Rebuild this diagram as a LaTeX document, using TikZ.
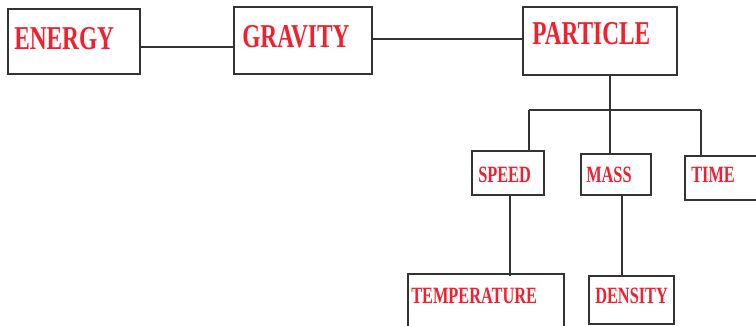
\documentclass[tikz,border=0pt]{standalone}
\usepackage{fontspec}
\newfontfamily\wordfont[FakeStretch=0.7]{Liberation Serif}
\definecolor{wordred}{RGB}{245,30,45}
\tikzset{
  topicbox/.style={draw=black!80,line width=0.8pt,inner sep=0pt},
  bigword/.style={text=wordred,inner sep=0pt,anchor=base west,font=\wordfont\bfseries\fontsize{25}{25}\selectfont},
  smallword/.style={text=wordred,inner sep=0pt,anchor=base west,font=\wordfont\bfseries\fontsize{17.5}{17.5}\selectfont},
  link/.style={draw=black!80,line width=0.8pt}
}
\begin{document}
\begin{tikzpicture}[x=0.75pt,y=-0.75pt]
  \useasboundingbox[fill=white] (0,0) rectangle (756,325);

  \node[topicbox,minimum width=99pt,minimum height=48.75pt] (energy) at (74,41.5) {};
  \node[topicbox,minimum width=103.5pt,minimum height=50.25pt] (gravity) at (303,40.5) {};
  \node[topicbox,minimum width=115.5pt,minimum height=51pt] (particle) at (600,41) {};
  \node[topicbox,minimum width=54pt,minimum height=33pt] (speed) at (508,173) {};
  \node[topicbox,minimum width=52.5pt,minimum height=30.75pt] (mass) at (616,174.5) {};
  \node[topicbox,minimum width=63.75pt,minimum height=33pt] (time) at (727.5,178) {};
  \node[topicbox,minimum width=117pt,minimum height=49.5pt] (temperature) at (486,307) {};
  \node[topicbox,minimum width=63.75pt,minimum height=36pt] (density) at (631.5,300) {};

  \node[bigword] (energy-t) at (14,49) {ENERGY};
  \node[bigword] (gravity-t) at (242,47) {GRAVITY};
  \node[bigword] (particle-t) at (532,44.5) {PARTICLE};
  \node[smallword] (speed-t) at (478,182) {SPEED};
  \node[smallword] (mass-t) at (586,182) {MASS};
  \node[smallword] (time-t) at (691,182) {TIME};
  \node[smallword] (temperature-t) at (411,303) {TEMPERATURE};
  \node[smallword] (density-t) at (595,303) {DENSITY};

  \draw[link] (energy.east) ++(0,5.5) coordinate (e1) -- (e1 -| gravity.west);
  \draw[link] (gravity.east) ++(0,-1.5) coordinate (g1) -- (g1 -| particle.west);
  \draw[link] (particle.south) ++(10,0) coordinate (p1) -- (p1 |- mass.north);
  \coordinate (busl) at (529,110);
  \coordinate (busr) at (701,110);
  \draw[link] (busl) -- (busr);
  \draw[link] (busl) -- (busl |- speed.north);
  \draw[link] (busr) -- ([yshift=-0.75pt]busr |- time.north);
  \draw[link] (speed.south) ++(2,0) coordinate (s1) -- ([yshift=-2.25pt]s1 |- temperature.north);
  \draw[link] (mass.south) ++(6,0) coordinate (m1) -- ([yshift=-0.75pt]m1 |- density.north);
\end{tikzpicture}
\end{document}
